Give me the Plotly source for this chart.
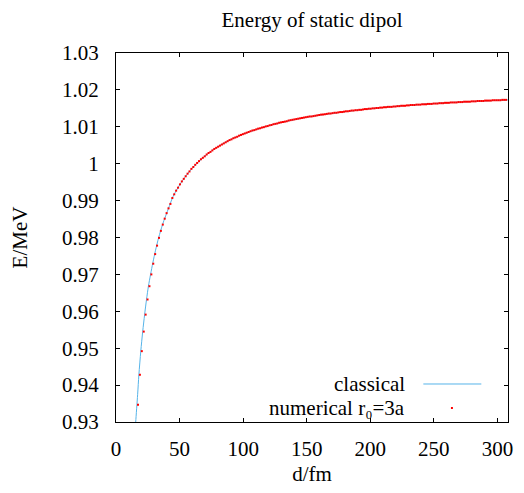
import plotly.graph_objects as go

# ---- data ----
classical_d = [15.0, 15.5, 17.0, 18.0, 19.5, 21.0, 22.5, 24.0, 25.5, 27.2, 29.0, 31.0,
               33.5, 36.8, 41.3, 45.0, 50.0, 55.0, 60.0, 70.0, 80.0, 90.0, 100.0,
               120.0, 150.0, 200.0, 250.0, 308.3]
classical_E = [0.9273, 0.9300, 0.9374, 0.9428, 0.9492, 0.9545, 0.9591, 0.9632, 0.9668,
               0.9700, 0.9732, 0.9764, 0.9799, 0.9837, 0.9879, 0.9912, 0.9942, 0.9967,
               0.9988, 1.0021, 1.0046, 1.0065, 1.0080, 1.0103, 1.0126, 1.0149, 1.0163,
               1.0173]

numerical_d = [
    17.3, 18.8, 20.3, 21.8, 23.3, 24.8, 26.3, 27.8, 29.3, 30.8, 32.3, 33.8, 35.3, 36.8,
    38.3, 39.8, 41.3, 42.8, 44.3, 45.8, 47.3, 48.8, 50.3, 51.8, 53.3, 54.8, 56.3, 57.8,
    59.3, 60.8, 62.3, 63.8, 65.3, 66.8, 68.3, 69.8, 71.3, 72.8, 74.3, 75.8, 77.3, 78.8,
    80.3, 81.8, 83.3, 84.8, 86.3, 87.8, 89.3, 90.8, 92.3, 93.8, 95.3, 96.8, 98.3, 99.8,
    101.3, 102.8, 104.3, 105.8, 107.3, 108.8, 110.3, 111.8, 113.3, 114.8, 116.3, 117.8,
    119.3, 120.8, 122.3, 123.8, 125.3, 126.8, 128.3, 129.8, 131.3, 132.8, 134.3, 135.8,
    137.3, 138.8, 140.3, 141.8, 143.3, 144.8, 146.3, 147.8, 149.3, 150.8, 152.3, 153.8,
    155.3, 156.8, 158.3, 159.8, 161.3, 162.8, 164.3, 165.8, 167.3, 168.8, 170.3, 171.8,
    173.3, 174.8, 176.3, 177.8, 179.3, 180.8, 182.3, 183.8, 185.3, 186.8, 188.3, 189.8,
    191.3, 192.8, 194.3, 195.8, 197.3, 198.8, 200.3, 201.8, 203.3, 204.8, 206.3, 207.8,
    209.3, 210.8, 212.3, 213.8, 215.3, 216.8, 218.3, 219.8, 221.3, 222.8, 224.3, 225.8,
    227.3, 228.8, 230.3, 231.8, 233.3, 234.8, 236.3, 237.8, 239.3, 240.8, 242.3, 243.8,
    245.3, 246.8, 248.3, 249.8, 251.3, 252.8, 254.3, 255.8, 257.3, 258.8, 260.3, 261.8,
    263.3, 264.8, 266.3, 267.8, 269.3, 270.8, 272.3, 273.8, 275.3, 276.8, 278.3, 279.8,
    281.3, 282.8, 284.3, 285.8, 287.3, 288.8, 290.3, 291.8, 293.3, 294.8, 296.3, 297.8,
    299.3, 300.8, 302.3, 303.8, 305.3, 306.8]
numerical_E = [
    0.9347, 0.9428, 0.9492, 0.9545, 0.9591, 0.9632, 0.9668, 0.9700, 0.9729, 0.9755,
    0.9778, 0.9799, 0.9818, 0.9835, 0.9851, 0.9866, 0.9879, 0.9891, 0.9907, 0.9917,
    0.9927, 0.9935, 0.9944, 0.9952, 0.9959, 0.9966, 0.9973, 0.9979, 0.9986, 0.9991,
    0.9997, 1.0002, 1.0007, 1.0012, 1.0016, 1.0020, 1.0025, 1.0029, 1.0032, 1.0036,
    1.0040, 1.0043, 1.0046, 1.0049, 1.0052, 1.0055, 1.0058, 1.0061, 1.0064, 1.0066,
    1.0069, 1.0071, 1.0073, 1.0076, 1.0078, 1.0080, 1.0082, 1.0084, 1.0086, 1.0088,
    1.0090, 1.0091, 1.0093, 1.0095, 1.0096, 1.0098, 1.0099, 1.0101, 1.0102, 1.0104,
    1.0105, 1.0107, 1.0108, 1.0109, 1.0111, 1.0112, 1.0113, 1.0114, 1.0115, 1.0117,
    1.0118, 1.0119, 1.0120, 1.0121, 1.0122, 1.0123, 1.0124, 1.0125, 1.0126, 1.0127,
    1.0128, 1.0128, 1.0129, 1.0130, 1.0131, 1.0132, 1.0133, 1.0133, 1.0134, 1.0135,
    1.0136, 1.0136, 1.0137, 1.0138, 1.0138, 1.0139, 1.0140, 1.0140, 1.0141, 1.0142,
    1.0142, 1.0143, 1.0144, 1.0144, 1.0145, 1.0145, 1.0146, 1.0146, 1.0147, 1.0148,
    1.0148, 1.0149, 1.0149, 1.0150, 1.0150, 1.0151, 1.0151, 1.0152, 1.0152, 1.0153,
    1.0153, 1.0154, 1.0154, 1.0154, 1.0155, 1.0155, 1.0156, 1.0156, 1.0157, 1.0157,
    1.0157, 1.0158, 1.0158, 1.0159, 1.0159, 1.0159, 1.0160, 1.0160, 1.0160, 1.0161,
    1.0161, 1.0161, 1.0162, 1.0162, 1.0162, 1.0163, 1.0163, 1.0163, 1.0164, 1.0164,
    1.0164, 1.0165, 1.0165, 1.0165, 1.0166, 1.0166, 1.0166, 1.0166, 1.0167, 1.0167,
    1.0167, 1.0168, 1.0168, 1.0168, 1.0168, 1.0169, 1.0169, 1.0169, 1.0170, 1.0170,
    1.0170, 1.0170, 1.0171, 1.0171, 1.0171, 1.0171, 1.0172, 1.0172, 1.0172, 1.0172,
    1.0172, 1.0173, 1.0173, 1.0173]

x_ticks = [0, 50, 100, 150, 200, 250, 300]
x_ticklabels = ["0", "50", "100", "150", "200", "250", "300"]
y_ticks = [0.93, 0.94, 0.95, 0.96, 0.97, 0.98, 0.99, 1.00, 1.01, 1.02, 1.03]
y_ticklabels = ["0.93", "0.94", "0.95", "0.96", "0.97", "0.98", "0.99", "1", "1.01", "1.02", "1.03"]

title_text = "Energy of static dipol"
legend_labels = ["classical", "numerical r\u2080=3a"]

# legend key placement (fractions of the plot area)
key_line_x = [0.784, 0.932]
key_row_y = [0.103, 0.038]
key_dot_x = 0.857
key_text_x = 0.742

BLUE = "#56b4e9"
RED = "#ff0000"
FONT = "Liberation Serif"
FS = 21

# The page body has an 8px default margin; the figure is sized/margined to compensate.
W, H = 516, 485
L, R, T, B = 106, 11, 45, 71

fig = go.Figure()
fig.add_trace(go.Scatter(x=classical_d, y=classical_E, mode="lines",
                         line=dict(color=BLUE, width=1, shape="spline", smoothing=0.8),
                         showlegend=False))
fig.add_trace(go.Scatter(x=numerical_d, y=numerical_E, mode="markers",
                         marker=dict(color=RED, size=2, symbol="square", line=dict(width=0)),
                         showlegend=False))
# legend keys on an invisible overlay axis pair spanning the plot area (0..1)
fig.add_trace(go.Scatter(x=key_line_x, y=[key_row_y[0]] * 2, mode="lines",
                         line=dict(color=BLUE, width=1), xaxis="x2", yaxis="y2",
                         showlegend=False, hoverinfo="skip"))
fig.add_trace(go.Scatter(x=[key_dot_x], y=[key_row_y[1]], mode="markers",
                         marker=dict(color=RED, size=2, symbol="square", line=dict(width=0)),
                         xaxis="x2", yaxis="y2", showlegend=False, hoverinfo="skip"))

fig.update_layout(
    xaxis=dict(range=[0, 308.3], tickvals=x_ticks, ticktext=x_ticklabels,
               tickfont=dict(family=FONT, size=FS, color="black"),
               title=dict(text="d/fm", font=dict(family=FONT, size=FS, color="black"), standoff=6),
               showline=True, linecolor="black", linewidth=1, mirror="ticks",
               ticks="inside", ticklen=4, tickcolor="black", showgrid=False, zeroline=False,
               ticklabelstandoff=8, ticklabeloverflow="allow"),
    yaxis=dict(range=[0.93, 1.03], tickvals=y_ticks, ticktext=y_ticklabels,
               tickfont=dict(family=FONT, size=FS, color="black"),
               title=dict(text="E/MeV", font=dict(family=FONT, size=FS, color="black"), standoff=28),
               showline=True, linecolor="black", linewidth=1, mirror="ticks",
               ticks="inside", ticklen=4, tickcolor="black", showgrid=False, zeroline=False,
               ticklabelstandoff=12),
    xaxis2=dict(overlaying="x", range=[0, 1], visible=False, fixedrange=True),
    yaxis2=dict(overlaying="y", range=[0, 1], visible=False, fixedrange=True),
)

# legend texts in gnuplot style (right-aligned, key to the right)
for txt, yy in zip(legend_labels, key_row_y):
    fig.add_annotation(xref="paper", yref="paper", x=key_text_x, y=yy, text=txt,
                       showarrow=False, xanchor="right", yanchor="middle",
                       font=dict(family=FONT, size=FS, color="black"))

fig.update_layout(
    width=W, height=H,
    margin=dict(l=L, r=R, t=T, b=B),
    plot_bgcolor="white", paper_bgcolor="white",
    title=dict(text=title_text, x=0.5, xref="paper", xanchor="center",
               y=1 - 12 / H, yanchor="middle",
               font=dict(family=FONT, size=FS, color="black")),
)

fig.write_html("out.html")
